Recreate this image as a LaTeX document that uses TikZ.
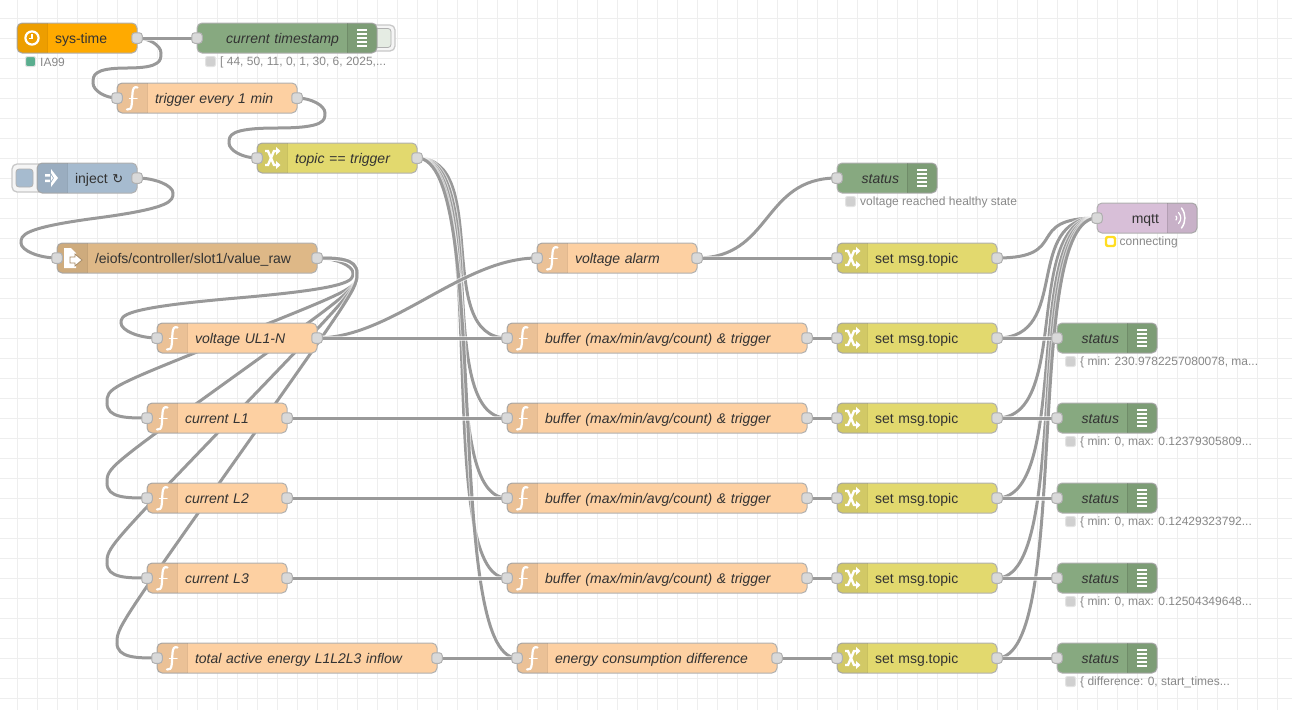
\documentclass[tikz,border=0pt]{standalone}
\usepackage{fontspec}
\setmainfont{Liberation Sans}
\newfontfamily\symfont{DejaVu Sans}
\usetikzlibrary{backgrounds}

\definecolor{gridcol}{HTML}{EEEEEE}
\definecolor{wirecol}{HTML}{999999}
\definecolor{edgecol}{HTML}{B0B0B0}
\definecolor{textcol}{HTML}{333333}
\definecolor{statuscol}{HTML}{888888}
\definecolor{portcol}{HTML}{D9D9D9}
\definecolor{dotcol}{HTML}{D0D0D0}
\definecolor{s7col}{HTML}{FFAA00}
\definecolor{debugcol}{HTML}{87A980}
\definecolor{funccol}{HTML}{FDD0A2}
\definecolor{switchcol}{HTML}{E2D96E}
\definecolor{injectcol}{HTML}{A6BBCF}
\definecolor{filecol}{HTML}{DEB887}
\definecolor{mqttcol}{HTML}{D8BFD8}
\definecolor{onlinecol}{HTML}{5AAE8F}
\definecolor{connectcol}{HTML}{FFDD22}

\tikzset{
  flowbox/.style={draw=edgecol, line width=1pt, rounded corners=5pt, outer sep=0pt,
    inner xsep=0pt, inner ysep=0pt, minimum height=30pt, text=textcol,
    text height=13pt, text depth=3pt, font=\fontsize{14}{16}\selectfont},
  named/.style={font=\fontsize{14}{16}\selectfont\itshape},
  port/.style={draw=edgecol, fill=portcol, line width=1pt, rounded corners=3pt,
    minimum size=10.5pt, inner sep=0pt, outer sep=0pt},
  wire/.style={preaction={draw=white, draw opacity=.6, line width=5pt}, draw=wirecol, line width=3pt},
  fwd/.style={to path={.. controls +(75,0) and +(-75,0) .. (\tikztotarget)}},
  iconline/.style={draw=white, line width=2.2pt, line cap=round},
  statusdot/.style={fill=dotcol, draw=dotcol!60, line width=1pt, rounded corners=2pt,
    minimum size=10pt, inner sep=0pt, outer sep=0pt},
  statustext/.style={text=statuscol, inner sep=0pt, label distance=4.5pt, yshift=-1pt,
    font=\fontsize{12}{14}\selectfont},
  btnouter/.style={draw=edgecol!70, fill=gridcol!60, line width=1.3pt, rounded corners=5pt,
    inner sep=0pt, outer sep=0pt},
  btninner/.style={draw=edgecol, line width=.8pt, rounded corners=3pt, inner sep=0pt, outer sep=0pt},
}

%% node bodies, text left or right of the icon band
\newcommand\BANDLEFT[1]{%
  \begin{scope}
    \clip (#1.north west) rectangle ++(30,30);
    \fill[black, opacity=.07, rounded corners=5pt] (#1.north west) rectangle ++(60,30);
  \end{scope}
  \draw[black, opacity=.1] ([xshift=30pt]#1.north west) -- ([xshift=30pt]#1.south west);
}
\newcommand\BANDRIGHT[1]{%
  \begin{scope}
    \clip (#1.north east) rectangle ++(-30,30);
    \fill[black, opacity=.07, rounded corners=5pt] (#1.north east) rectangle ++(-60,30);
  \end{scope}
  \draw[black, opacity=.1] ([xshift=-30pt]#1.north east) -- ([xshift=-30pt]#1.south east);
}
\newcommand\LEFTNODE[6]{%
  \node[flowbox, #1, text width=#5pt, align=left, execute at begin node=\hspace*{38pt}] (#2) at (#3,#4) {#6};
  \BANDLEFT{#2}
}
\newcommand\RIGHTNODE[6]{%
  \node[flowbox, #1, text width=#5pt, align=right, execute at end node=\hspace*{38pt}] (#2) at (#3,#4) {#6};
  \BANDRIGHT{#2}
}
\newcommand\INPORT[1]{\node[port] (#1-in) at (#1.west) {};}
\newcommand\OUTPORT[1]{\node[port] (#1-out) at (#1.east) {};}

%% icons
\newcommand\FICON[1]{%
  \begin{scope}[shift={(#1.west)}]
    \draw[iconline] (20.5,-10.5) .. controls (17,-12) and (15.8,-9) .. (15.5,-5) -- (14.8,6)
      .. controls (14.5,10.5) and (12.5,12.5) .. (10,11.5);
    \draw[iconline, line width=1.5pt] (12.5,0.5) -- (20,0.5);
  \end{scope}
}
\newcommand\SHUFFLEICON[1]{%
  \begin{scope}[shift={(#1.west)}]
    \draw[iconline, line cap=butt, line width=2.4pt] (8,-7) -- (11,-7) -- (17,7) -- (20,7);
    \draw[iconline, line cap=butt, line width=2.4pt] (8,7) -- (11,7) -- (17,-7) -- (20,-7);
    \fill[white] (19,-11) -- (23.5,-7) -- (19,-3) -- cycle;
    \fill[white] (19,3) -- (23.5,7) -- (19,11) -- cycle;
  \end{scope}
}
\newcommand\LINESICON[1]{%
  \begin{scope}[shift={(#1.east)}]
    \draw[draw=white, line width=1.3pt] (-20,-8) -- (-10,-8) (-20,-4) -- (-10,-4) (-20,0) -- (-10,0)
      (-20,4) -- (-10,4) (-20,8) -- (-10,8);
  \end{scope}
}
\newcommand\STATUS[4][dotcol]{%
  \node[statusdot, fill=#1, label={[statustext]right:#4}] (#2) at ([shift={(13.5,23.5)}]#3.west) {};
}

%% common node kinds
\newcommand\FUNCTION[5]{\LEFTNODE{fill=funccol, named}{#1}{#2}{#3}{#4}{#5}\FICON{#1}\INPORT{#1}\OUTPORT{#1}}
\newcommand\SETTOPIC[2]{\LEFTNODE{fill=switchcol}{#1}{917}{#2}{160}{set msg.topic}\SHUFFLEICON{#1}\INPORT{#1}\OUTPORT{#1}}
\newcommand\DEBUGNODE[5]{\RIGHTNODE{fill=debugcol, named}{#1}{#2}{#3}{#4}{#5}\LINESICON{#1}\INPORT{#1}}

\begin{document}
\begin{tikzpicture}[x=1pt, y=-1pt]
\useasboundingbox (0,0) rectangle (1292,710);

%% buttons under the node bodies
\node[btnouter, minimum width=28pt, minimum height=26pt] (debugbtn) at (381,38) {};
\node[btninner, fill=debugcol!22, minimum width=20pt, minimum height=19pt] (debugbtnin) at (381,38) {};
\node[btnouter, minimum width=35pt, minimum height=28pt] (injectbtn) at (29.5,178) {};
\node[btninner, fill=injectcol, minimum width=17pt, minimum height=18pt] (injectbtnin) at (24.5,178) {};

%% top left
\LEFTNODE{fill=s7col}{systime}{77}{38}{120}{sys-time}
\begin{scope}[shift={(systime.west)}]
  \draw[white, line width=2.2pt] (15,0) circle (6.6pt);
  \draw[white, line width=1.1pt] (15,-4) -- (15,0.5) -- (11.5,0.5);
\end{scope}
\OUTPORT{systime}
\STATUS[onlinecol]{systimedot}{systime}{IA99}

\DEBUGNODE{timestamp}{287}{38}{180}{current timestamp}
\STATUS{timestampdot}{timestamp}{[ 44, 50, 11, 0, 1, 30, 6, 2025,...}

\FUNCTION{trigger}{207}{98}{180}{trigger every 1 min}

\LEFTNODE{fill=switchcol, named}{topic}{337}{158}{160}{topic == trigger}
\SHUFFLEICON{topic}\INPORT{topic}\OUTPORT{topic}

\LEFTNODE{fill=injectcol}{inject}{87}{178}{100}{inject {\symfont\fontsize{13}{16}\selectfont ↻}}
\begin{scope}[shift={(inject.west)}]
  \fill[white] (8,-4) rectangle (13,-1.5) (8,1.5) rectangle (13,4);
  \fill[white] (14,-9) -- (21,0) -- (14,9) -- (14,5) -- (17,0) -- (14,-5) -- cycle;
  \fill[white] (14,-3) -- (16,0) -- (14,3) -- cycle;
\end{scope}
\OUTPORT{inject}

\LEFTNODE{fill=filecol}{valueraw}{187}{258}{260}{/eiofs/controller/slot1/value\_raw}
\begin{scope}[shift={(valueraw.west)}]
  \fill[white] (7,-10) -- (14,-10) -- (19,-5) -- (19,10) -- (7,10) -- cycle;
  \draw[draw=filecol!75!black, fill=white, line width=.8pt] (13,-1) -- (18,-1) -- (18,-4) -- (25,2) -- (18,8) -- (18,5) -- (13,5) -- cycle;
\end{scope}
\INPORT{valueraw}\OUTPORT{valueraw}

%% parsers
\FUNCTION{voltage}{237}{338}{160}{voltage UL1-N}
\FUNCTION{currentone}{217}{418}{140}{current L1}
\FUNCTION{currenttwo}{217}{498}{140}{current L2}
\FUNCTION{currentthree}{217}{578}{140}{current L3}
\FUNCTION{energy}{297}{658}{280}{total active energy L1L2L3 inflow}

%% middle column
\FUNCTION{alarm}{617}{258}{160}{voltage alarm}
\FUNCTION{bufferone}{657}{338}{300}{buffer (max/min/avg/count) \& trigger}
\FUNCTION{buffertwo}{657}{418}{300}{buffer (max/min/avg/count) \& trigger}
\FUNCTION{bufferthree}{657}{498}{300}{buffer (max/min/avg/count) \& trigger}
\FUNCTION{bufferfour}{657}{578}{300}{buffer (max/min/avg/count) \& trigger}
\FUNCTION{difference}{647}{658}{260}{energy consumption difference}

%% set topic column
\SETTOPIC{settopicalarm}{258}
\SETTOPIC{settopicone}{338}
\SETTOPIC{settopictwo}{418}
\SETTOPIC{settopicthree}{498}
\SETTOPIC{settopicfour}{578}
\SETTOPIC{settopicdiff}{658}

%% right side
\DEBUGNODE{statusalarm}{887}{178}{100}{status}
\STATUS{statusalarmdot}{statusalarm}{voltage reached healthy state}

\RIGHTNODE{fill=mqttcol}{mqtt}{1147}{218}{100}{mqtt}
\begin{scope}[shift={(mqtt.east)}]
  \draw[iconline, line width=1.5pt] (-15.5,-10) .. controls (-11,-4) and (-11,4) .. (-15.5,10);
  \draw[iconline, line width=1.2pt] (-18.5,-5.5) .. controls (-15.5,-2) and (-15.5,2) .. (-18.5,5.5);
  \draw[iconline, line width=1.2pt] (-21,-2) .. controls (-20,-1) and (-20,1) .. (-21,2);
\end{scope}
\INPORT{mqtt}
\node[statusdot, fill=white, draw=connectcol, line width=2.4pt, minimum size=9pt,
  label={[statustext]right:connecting}] (mqttdot) at ([shift={(13.5,23.5)}]mqtt.west) {};

\DEBUGNODE{statusone}{1107}{338}{100}{status}
\STATUS{statusonedot}{statusone}{\{ min: 230.9782257080078, ma...}
\DEBUGNODE{statustwo}{1107}{418}{100}{status}
\STATUS{statustwodot}{statustwo}{\{ min: 0, max: 0.12379305809...}
\DEBUGNODE{statusthree}{1107}{498}{100}{status}
\STATUS{statusthreedot}{statusthree}{\{ min: 0, max: 0.12429323792...}
\DEBUGNODE{statusfour}{1107}{578}{100}{status}
\STATUS{statusfourdot}{statusfour}{\{ min: 0, max: 0.12504349648...}
\DEBUGNODE{statusdiff}{1107}{658}{100}{status}
\STATUS{statusdiffdot}{statusdiff}{\{ difference: 0, start\_times...}

\begin{scope}[on background layer]
%% grid
\draw[gridcol, line width=1pt, shift={(17,18)}, y=1pt, xstep=20, ystep=20] (-17,-692) grid (1275,18);

%% wires going back to the left
\draw[wire] (systime.east) .. controls (149,38) and (161,45.5) .. (161,53) .. controls (161,60.5) and (161,68) .. (127,68)
  .. controls (93,68) and (93,75.5) .. (93,83) .. controls (93,90.5) and (105,98) .. (trigger.west);
\draw[wire] (trigger.east) .. controls (311,98) and (325,105.5) .. (325,113) .. controls (325,120.5) and (325,128) .. (277,128)
  .. controls (229,128) and (229,135.5) .. (229,143) .. controls (229,150.5) and (243,158) .. (topic.west);
\draw[wire] (inject.east) .. controls (155,178) and (173,185.5) .. (173,193) .. controls (173,200.5) and (173,208) .. (97,218)
  .. controls (21,228) and (21,235.5) .. (21,243) .. controls (21,250.5) and (39,258) .. (valueraw.west);
\draw[wire] (valueraw.east) .. controls (335,258) and (353,265.5) .. (353,273) .. controls (353,280.5) and (353,288) .. (237,298)
  .. controls (121,308) and (121,315.5) .. (121,323) .. controls (121,330.5) and (139,338) .. (voltage.west);
\draw[wire] (valueraw.east) .. controls (337,258) and (357,258) .. (357,273) .. controls (357,288) and (357,288) .. (232,338)
  .. controls (107,388) and (107,388) .. (107,403) .. controls (107,418) and (127,418) .. (currentone.west);
\draw[wire] (valueraw.east) .. controls (337,258) and (357,258) .. (357,273) .. controls (357,288) and (357,288) .. (232,378)
  .. controls (107,468) and (107,468) .. (107,483) .. controls (107,498) and (127,498) .. (currenttwo.west);
\draw[wire] (valueraw.east) .. controls (337,258) and (357,258) .. (357,273) .. controls (357,288) and (357,288) .. (232,418)
  .. controls (107,548) and (107,548) .. (107,563) .. controls (107,578) and (127,578) .. (currentthree.west);
\draw[wire] (valueraw.east) .. controls (337,258) and (357,258) .. (357,273) .. controls (357,288) and (357,288) .. (237,458)
  .. controls (117,628) and (117,628) .. (117,643) .. controls (117,658) and (137,658) .. (energy.west);

%% wires going right
\draw[wire] (systime.east) -- (timestamp.west);
\draw[wire] (topic.east) to[fwd] (bufferone.west);
\draw[wire] (topic.east) to[fwd] (buffertwo.west);
\draw[wire] (topic.east) to[fwd] (bufferthree.west);
\draw[wire] (topic.east) to[fwd] (bufferfour.west);
\draw[wire] (topic.east) to[fwd] (difference.west);
\draw[wire] (voltage.east) to[fwd] (alarm.west);
\draw[wire] (voltage.east) -- (bufferone.west);
\draw[wire] (currentone.east) -- (buffertwo.west);
\draw[wire] (currenttwo.east) -- (bufferthree.west);
\draw[wire] (currentthree.east) -- (bufferfour.west);
\draw[wire] (energy.east) -- (difference.west);
\draw[wire] (alarm.east) to[fwd] (statusalarm.west);
\draw[wire] (alarm.east) -- (settopicalarm.west);
\draw[wire] (bufferone.east) -- (settopicone.west);
\draw[wire] (buffertwo.east) -- (settopictwo.west);
\draw[wire] (bufferthree.east) -- (settopicthree.west);
\draw[wire] (bufferfour.east) -- (settopicfour.west);
\draw[wire] (difference.east) -- (settopicdiff.west);
\draw[wire] (settopicalarm.east) to[fwd] (mqtt.west);
\draw[wire] (settopicone.east) to[fwd] (mqtt.west);
\draw[wire] (settopictwo.east) to[fwd] (mqtt.west);
\draw[wire] (settopicthree.east) to[fwd] (mqtt.west);
\draw[wire] (settopicfour.east) to[fwd] (mqtt.west);
\draw[wire] (settopicdiff.east) to[fwd] (mqtt.west);
\draw[wire] (settopicone.east) -- (statusone.west);
\draw[wire] (settopictwo.east) -- (statustwo.west);
\draw[wire] (settopicthree.east) -- (statusthree.west);
\draw[wire] (settopicfour.east) -- (statusfour.west);
\draw[wire] (settopicdiff.east) -- (statusdiff.west);
\end{scope}
\end{tikzpicture}
\end{document}
